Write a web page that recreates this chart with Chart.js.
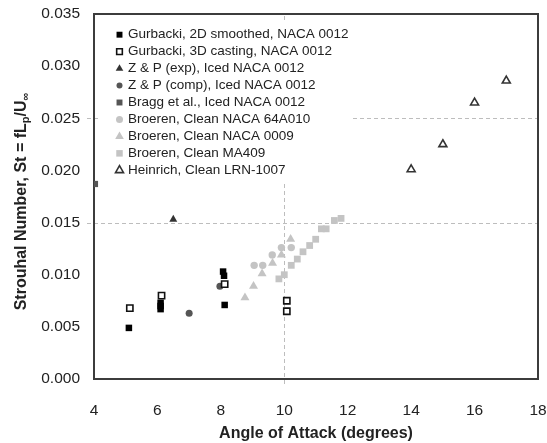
<!DOCTYPE html>
<html>
<head>
<meta charset="utf-8">
<script src="https://cdn.jsdelivr.net/npm/chart.js@4.4.0/dist/chart.umd.min.js"></script>
<style>
  html, body { margin: 0; padding: 0; background: #fff; }
  #wrap { width: 547px; height: 443px; }
</style>
</head>
<body>
<div id="wrap"><canvas id="stChart" width="547" height="443"></canvas></div>
<script>
// angle of attack (deg) / Strouhal number for each data set
var gurbacki2dX = [5.1, 6.1, 6.1, 6.1, 8.07, 8.1, 8.12];
var gurbacki2dY = [0.0049, 0.0073, 0.0070, 0.0067, 0.0103, 0.0099, 0.0071];
var gurbacki3dX = [5.13, 6.13, 8.12, 10.08, 10.08];
var gurbacki3dY = [0.0068, 0.0080, 0.0091, 0.0075, 0.0065];
var zpExpX = [6.5];
var zpExpY = [0.0153];
var zpCompX = [7.0, 7.97];
var zpCompY = [0.0063, 0.0089];
var braggX = [4.03];
var braggY = [0.0187];
var broeren64X = [9.05, 9.32, 9.62, 9.91, 10.22];
var broeren64Y = [0.0109, 0.0109, 0.0119, 0.0126, 0.0126];
var broeren0009X = [8.76, 9.03, 9.3, 9.63, 9.91, 10.2];
var broeren0009Y = [0.0078, 0.0089, 0.0101, 0.0111, 0.0119, 0.0134];
var broerenMa409X = [9.83, 10.0, 10.22, 10.41, 10.59, 10.8, 10.99, 11.17, 11.32, 11.58, 11.79];
var broerenMa409Y = [0.0096, 0.0100, 0.0109, 0.0115, 0.0122, 0.0128, 0.0134, 0.0144, 0.0144, 0.0152, 0.0154];
var heinrichX = [14, 15, 16, 17];
var heinrichY = [0.0201, 0.0225, 0.0265, 0.0286];

var labels = [
    'Gurbacki, 2D smoothed, NACA 0012',
    'Gurbacki, 3D casting, NACA 0012',
    'Z & P (exp), Iced NACA 0012',
    'Z & P (comp), Iced NACA 0012',
    'Bragg et al., Iced NACA 0012',
    'Broeren, Clean NACA 64A010',
    'Broeren, Clean NACA 0009',
    'Broeren, Clean MA409',
    'Heinrich, Clean LRN-1007'
];

// dashed reference lines
var gridX = [10];
var gridY = [0.015, 0.025];

var FONT = '"Liberation Sans", Arial, sans-serif';

function pts(xs, ys) {
    return xs.map(function (v, i) { return {x: v, y: ys[i]}; });
}

function set(label, data, style, radius, fill, stroke, bw, legendRadius) {
    return {
        label: label,
        data: data,
        showLine: false,
        pointStyle: style,
        pointRadius: radius,
        pointHoverRadius: radius,
        pointBackgroundColor: fill,
        pointBorderColor: stroke,
        pointBorderWidth: bw,
        legendRadius: legendRadius
    };
}

var datasets = [
    set(labels[0], pts(gurbacki2dX, gurbacki2dY), 'rect', 4.6, '#000', '#000', 0, 4.2),
    set(labels[1], pts(gurbacki3dX, gurbacki3dY), 'rect', 4.4, '#fff', '#111', 1.6, 4.0),
    set(labels[2], pts(zpExpX, zpExpY), 'triangle', 4.6, '#333', '#333', 0, 4.4),
    set(labels[3], pts(zpCompX, zpCompY), 'circle', 3.5, '#555', '#555', 0, 3.0),
    set(labels[4], pts(braggX, braggY), 'rect', 4.4, '#555', '#555', 0, 4.2),
    set(labels[5], pts(broeren64X, broeren64Y), 'circle', 3.7, '#c4c4c4', '#c4c4c4', 0, 3.5),
    set(labels[6], pts(broeren0009X, broeren0009Y), 'triangle', 5.2, '#c4c4c4', '#c4c4c4', 0, 5.0),
    set(labels[7], pts(broerenMa409X, broerenMa409Y), 'rect', 4.8, '#c4c4c4', '#c4c4c4', 0, 4.6),
    set(labels[8], pts(heinrichX, heinrichY), 'triangle', 4.6, '#fff', '#333', 1.6, 4.6)
];

// grid lines, frame, legend box and the y title with subscripts
var decor = {
    id: 'decor',
    beforeDatasetsDraw: function (chart) {
        var ctx = chart.ctx, xs = chart.scales.x, ys = chart.scales.y, a = chart.chartArea;
        ctx.save();
        ctx.strokeStyle = '#bdbdbd';
        ctx.lineWidth = 1;
        ctx.setLineDash([4, 3]);
        gridY.forEach(function (v) {
            var py = Math.round(ys.getPixelForValue(v)) + 0.5;
            ctx.beginPath(); ctx.moveTo(a.left - 7, py); ctx.lineTo(a.right, py); ctx.stroke();
        });
        gridX.forEach(function (v) {
            var px = Math.round(xs.getPixelForValue(v)) + 0.5;
            ctx.beginPath(); ctx.moveTo(px, a.bottom + 5); ctx.lineTo(px, a.top); ctx.stroke();
        });
        ctx.setLineDash([]);

        ctx.strokeStyle = '#3c3c3c';
        ctx.lineWidth = 2;
        ctx.strokeRect(a.left, a.top, a.right - a.left, a.bottom - a.top);

        // legend
        ctx.fillStyle = '#fff';
        ctx.fillRect(a.left + 7, a.top + 9, 252, 159);
        chart.data.datasets.forEach(function (ds, i) {
            var cy = a.top + 20.7 + i * 16.95;
            ctx.fillStyle = ds.pointBackgroundColor;
            ctx.strokeStyle = ds.pointBorderColor;
            ctx.lineWidth = ds.pointBorderWidth;
            Chart.helpers.drawPoint(ctx, {
                pointStyle: ds.pointStyle, radius: ds.legendRadius,
                borderWidth: ds.pointBorderWidth, rotation: 0
            }, a.left + 25.5, cy);
            ctx.fillStyle = '#222';
            ctx.font = '13.5px ' + FONT;
            ctx.textAlign = 'left';
            ctx.textBaseline = 'middle';
            ctx.fillText(ds.label, a.left + 34, cy);
        });
        ctx.restore();
    },
    afterDraw: function (chart) {
        var ctx = chart.ctx, a = chart.chartArea;
        var big = 'bold 16px ' + FONT, small = 'bold 11px ' + FONT;
        var parts = [
            ['Strouhal Number, St = fL', big, 0],
            ['p', small, 4],
            ['/U', big, 0],
            ['\u221E', small, 4]
        ];
        ctx.save();
        var total = 0;
        parts.forEach(function (p) { ctx.font = p[1]; p.push(ctx.measureText(p[0]).width); total += p[3]; });
        ctx.translate(22, (a.top + a.bottom) / 2 + 5);
        ctx.rotate(-Math.PI / 2);
        ctx.fillStyle = '#222';
        ctx.textBaseline = 'middle';
        ctx.textAlign = 'left';
        var x = -total / 2;
        parts.forEach(function (p) {
            ctx.font = p[1];
            ctx.fillText(p[0], x, p[2]);
            x += p[3];
        });
        ctx.restore();
    }
};

var ctx = document.getElementById('stChart').getContext('2d');
var stChart = new Chart(ctx, {
    type: 'scatter',
    data: {datasets: datasets},
    plugins: [decor],
    options: {
        responsive: false,
        animation: false,
        layout: {padding: {left: 0, right: 9, top: 14, bottom: 0}},
        plugins: {
            legend: {display: false},
            tooltip: {enabled: false}
        },
        scales: {
            x: {
                type: 'linear',
                min: 4,
                max: 18,
                grid: {display: false},
                border: {display: false},
                ticks: {stepSize: 2, padding: 14, color: '#222', font: {size: 15.5, family: FONT}},
                title: {
                    display: true,
                    text: 'Angle of Attack (degrees)',
                    color: '#222',
                    font: {size: 16, weight: 'bold', family: FONT},
                    padding: {top: 0, bottom: 0}
                },
                afterFit: function (scale) {
                    scale.height = 64;
                    scale.paddingLeft = 0;
                    scale.paddingRight = 0;
                }
            },
            y: {
                type: 'linear',
                min: 0,
                max: 0.035,
                grid: {display: false},
                border: {display: false},
                ticks: {
                    stepSize: 0.005,
                    padding: 6,
                    color: '#222',
                    font: {size: 15.5, family: FONT},
                    callback: function (v) { return v.toFixed(3); }
                },
                afterFit: function (scale) {
                    scale.width = 94;
                    scale.paddingTop = 0;
                    scale.paddingBottom = 0;
                }
            }
        }
    }
});
</script>
</body>
</html>
